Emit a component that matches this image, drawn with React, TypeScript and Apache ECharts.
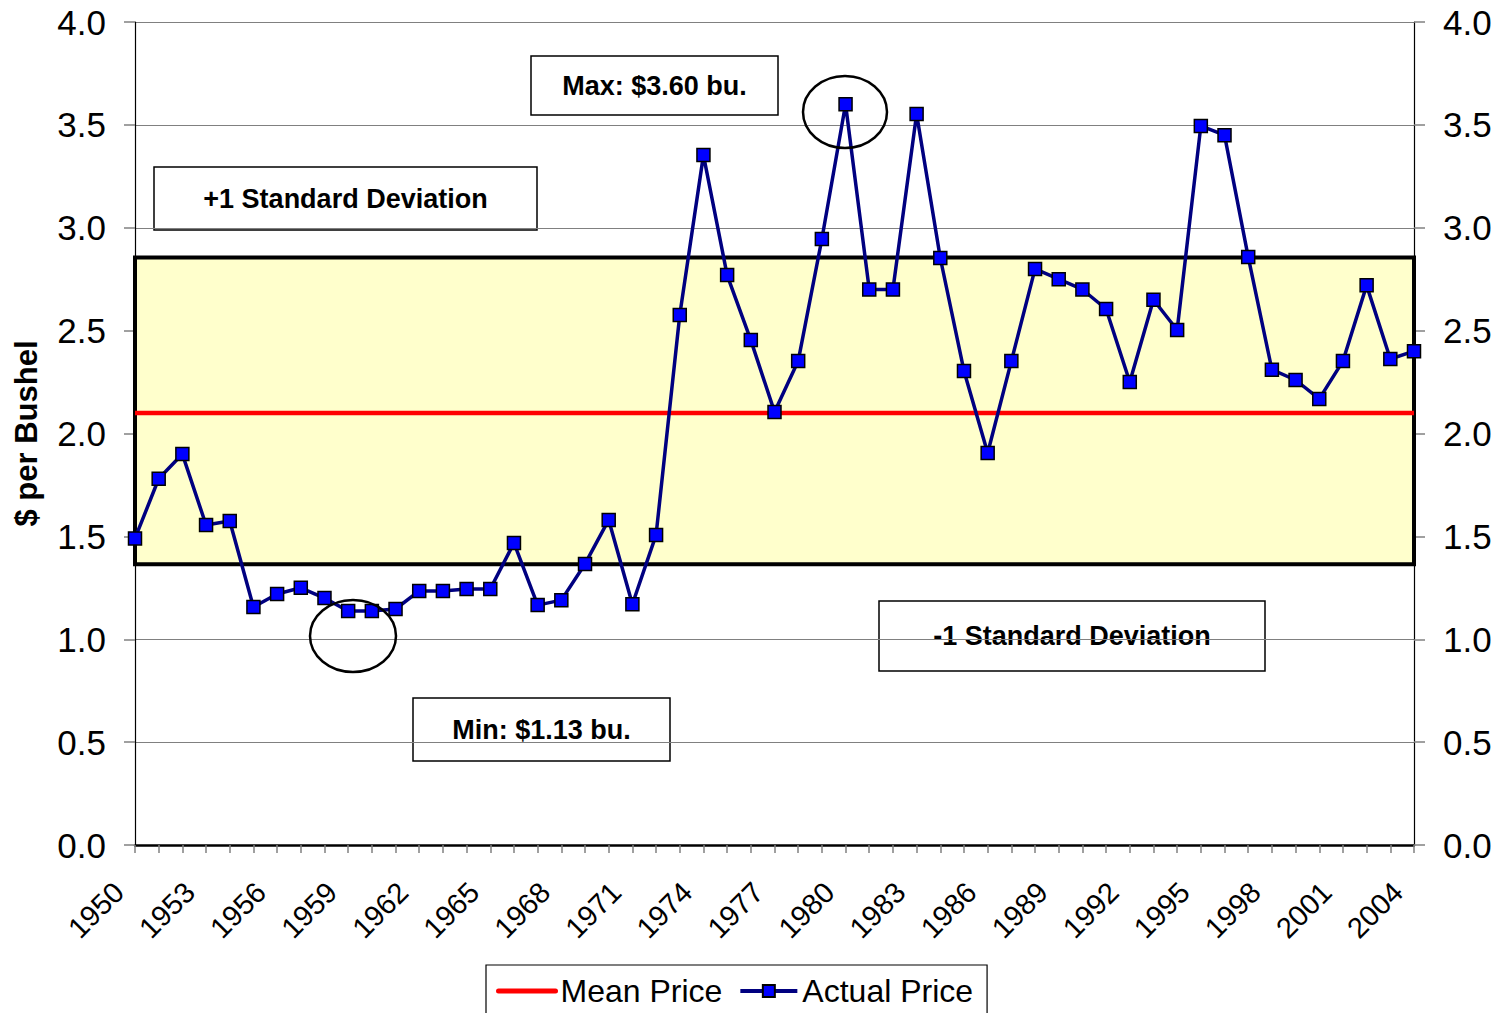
import React, { useEffect, useRef } from "react";
import * as echarts from "echarts";

const years: string[] = [];
for (let y = 1950; y <= 2004; y++) years.push(String(y));

const actualPrice = [
  1.49, 1.78, 1.9, 1.555, 1.575, 1.157, 1.22, 1.25, 1.2, 1.137,
  1.137, 1.147, 1.235, 1.235, 1.244, 1.244, 1.468, 1.166, 1.19, 1.366,
  1.58, 1.17, 1.507, 2.576, 3.353, 2.77, 2.454, 2.105, 2.352, 2.945,
  3.6, 2.7, 2.7, 3.553, 2.853, 2.304, 1.905, 2.352, 2.8, 2.75,
  2.7, 2.605, 2.25, 2.65, 2.503, 3.495, 3.45, 2.858, 2.31, 2.26,
  2.168, 2.352, 2.72, 2.362, 2.4,
];

const meanPrice = 2.1;
const plusOneSD = 2.855;
const minusOneSD = 1.365;

const annotationTexts = [
  "Max: $3.60 bu.",
  "+1 Standard Deviation",
  "Mean: $2.11 bu.",
  "-1 Standard Deviation",
  "Min: $1.13 bu.",
];

const FONT = "'Liberation Sans', Arial, sans-serif";

function box(x: number, y: number, w: number, h: number, text: string) {
  return {
    type: "group",
    z: 100,
    children: [
      {
        type: "rect",
        shape: { x, y, width: w, height: h },
        style: { fill: "#ffffff", stroke: "#000000", lineWidth: 1.5 },
      },
      {
        type: "text",
        x: x + w / 2,
        y: y + h / 2,
        style: {
          text,
          fill: "#000",
          font: `bold 27px ${FONT}`,
          textAlign: "center",
          textVerticalAlign: "middle",
        },
      },
    ],
  };
}

export default function App() {
  const ref = useRef<HTMLDivElement>(null);
  useEffect(() => {
    if (!ref.current) return;
    const chart = echarts.init(ref.current, undefined, { renderer: "svg" });
    const yAxisCommon = {
      type: "value",
      min: 0,
      max: 4,
      interval: 0.5,
      axisLabel: {
        formatter: (v: number) => v.toFixed(1),
        fontSize: 35,
        color: "#000",
        fontFamily: FONT,
        margin: 29,
      },
      axisTick: { show: true, length: 11, lineStyle: { color: "#808080", width: 1.5 } },
      axisLine: { show: true, lineStyle: { color: "#000", width: 1.2 } },
    };
    chart.setOption({
      animation: false,
      backgroundColor: "#ffffff",
      textStyle: { fontFamily: FONT },
      grid: { left: 135, right: 92, top: 22, bottom: 168, containLabel: false },
      xAxis: {
        type: "category",
        data: years,
        boundaryGap: false,
        axisLine: { lineStyle: { color: "#000", width: 2.5 } },
        axisTick: { interval: 0, length: 8, lineStyle: { color: "#808080", width: 1.5 } },
        axisLabel: {
          interval: 2,
          rotate: 45,
          fontSize: 29,
          color: "#000",
          fontFamily: FONT,
          margin: 26,
          padding: [0, 23, 0, 0],
        },
        splitLine: { show: false },
      },
      yAxis: [
        {
          ...yAxisCommon,
          position: "left",
          name: "$ per Bushel",
          nameLocation: "middle",
          nameGap: 93,
          nameTextStyle: { fontSize: 31, fontWeight: "bold", color: "#000", fontFamily: FONT },
          splitLine: { show: true, lineStyle: { color: "#808080", width: 1.2 } },
        },
        {
          ...yAxisCommon,
          position: "right",
          splitLine: { show: false },
        },
      ],
      legend: {
        left: 486,
        top: 965,
        data: [
          {
            name: "Mean Price",
            itemStyle: { opacity: 0 },
            lineStyle: { width: 5, cap: "round", color: "#ff0000" },
          },
          {
            name: "Actual Price",
            lineStyle: { width: 4, color: "#000080" },
          },
        ],
        orient: "horizontal",
        borderColor: "#000",
        borderWidth: 1.2,
        backgroundColor: "#fff",
        padding: [10, 14, 20, 10],
        itemWidth: 57,
        itemHeight: 15,
        itemGap: 16,
        textStyle: { fontSize: 32, color: "#000", fontFamily: FONT },
      },
      series: [
        {
          name: "Mean Price",
          type: "line",
          data: years.map(() => meanPrice),
          symbol: "none",
          lineStyle: { color: "#ff0000", width: 4.5 },
          itemStyle: { color: "#ff0000" },
          z: 3,
          markArea: {
            silent: true,
            itemStyle: { color: "#ffffcc", borderColor: "#000", borderWidth: 4 },
            data: [[{ yAxis: minusOneSD }, { yAxis: plusOneSD }]],
          },
        },
        {
          name: "Actual Price",
          type: "line",
          data: actualPrice,
          symbol: "rect",
          symbolSize: 13,
          lineStyle: { color: "#000080", width: 3.5 },
          itemStyle: { color: "#0000ff", borderColor: "#000", borderWidth: 1.5 },
          z: 5,
        },
      ],
      graphic: [
        box(531, 56, 247, 59, annotationTexts[0]),
        box(154, 167, 383, 63, annotationTexts[1]),
        box(285, 333, 248, 63, annotationTexts[2]),
        box(879, 601, 386, 70, annotationTexts[3]),
        box(413, 698, 257, 63, annotationTexts[4]),
        {
          type: "ellipse",
          z: 100,
          shape: { cx: 845, cy: 112, rx: 42, ry: 36 },
          style: { fill: "none", stroke: "#000", lineWidth: 2.5 },
        },
        {
          type: "ellipse",
          z: 100,
          shape: { cx: 353, cy: 636, rx: 43, ry: 36 },
          style: { fill: "none", stroke: "#000", lineWidth: 2.5 },
        },
      ],
    });
    return () => chart.dispose();
  }, []);
  return (
    <div
      ref={ref}
      style={{ position: "absolute", left: 0, top: 0, width: 1506, height: 1013 }}
    />
  );
}
